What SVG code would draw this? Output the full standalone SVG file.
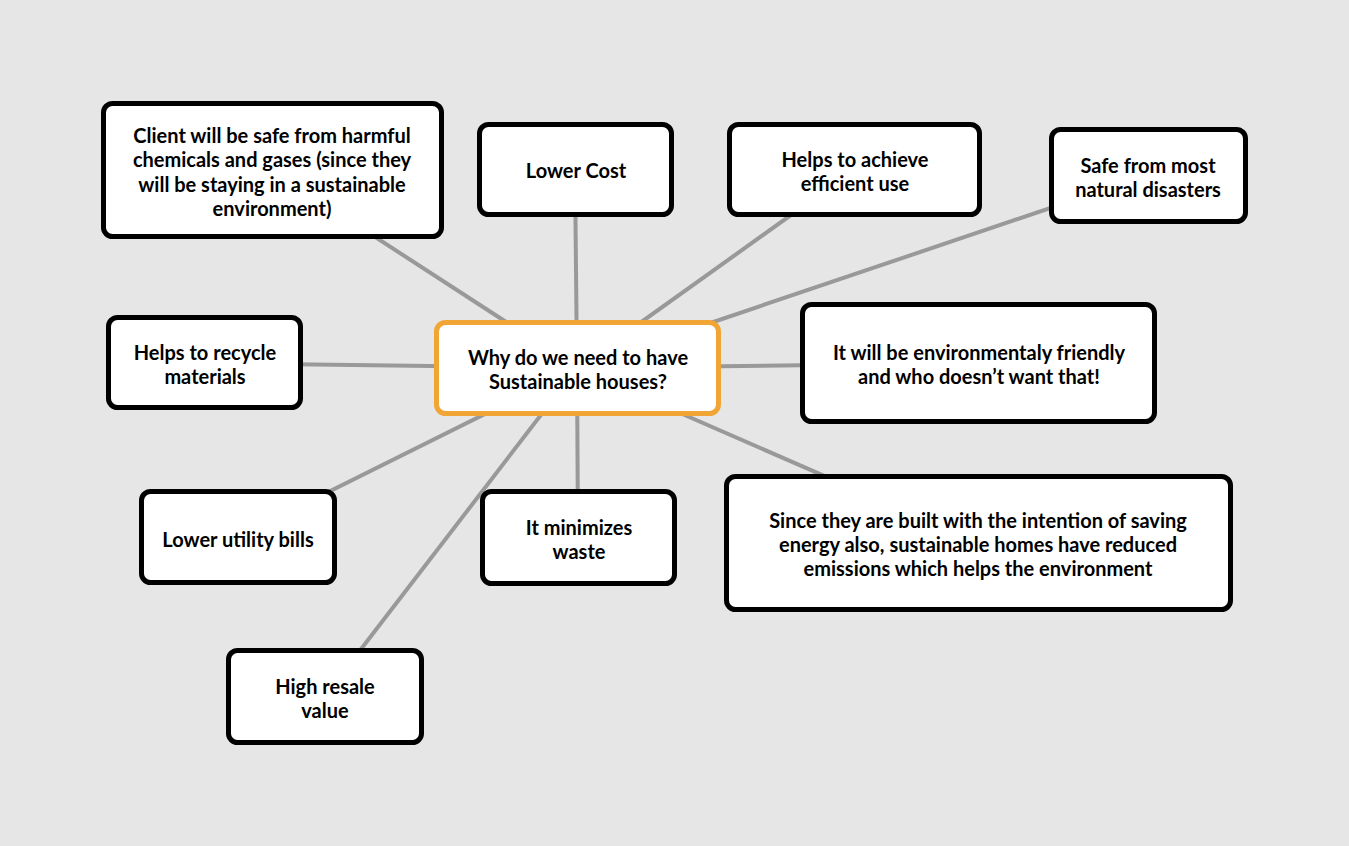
<svg xmlns="http://www.w3.org/2000/svg" width="1349" height="846" viewBox="0 0 1349 846">
  <style>
    .bg { fill: #e6e6e6; }
    .box { fill: #ffffff; stroke: #000000; stroke-width: 5; }
    .hub { fill: #ffffff; stroke: #f0a535; stroke-width: 5; }
    .link { stroke: #999999; stroke-width: 4; fill: none; }
    text { font-family: "Lato", "Liberation Sans", sans-serif; font-weight: bold; font-size: 20px; fill: #000000; text-anchor: middle; }
  </style>
  <rect class="bg" x="0" y="0" width="1349" height="846"/>

  <!-- spokes from the central question to each reason -->
  <g id="connectors">
    <line class="link" x1="577" y1="368" x2="272" y2="170"/>
    <line class="link" x1="577" y1="368" x2="575" y2="170"/>
    <line class="link" x1="577" y1="368" x2="854" y2="170"/>
    <line class="link" x1="577" y1="368" x2="1148" y2="175"/>
    <line class="link" x1="577" y1="368" x2="204" y2="363"/>
    <line class="link" x1="577" y1="368" x2="978" y2="363"/>
    <line class="link" x1="577" y1="368" x2="238" y2="537"/>
    <line class="link" x1="577" y1="368" x2="578" y2="537"/>
    <line class="link" x1="577" y1="368" x2="978" y2="543"/>
    <line class="link" x1="577" y1="368" x2="325" y2="696"/>
  </g>

  <g id="node-client-safe">
    <rect class="box" x="103.5" y="103.5" width="338" height="133" rx="9"/>
    <text x="272" y="143">Client will be safe from harmful</text>
    <text x="272" y="167">chemicals and gases (since they</text>
    <text x="272" y="192">will be staying in a sustainable</text>
    <text x="272" y="216">environment)</text>
  </g>

  <g id="node-lower-cost">
    <rect class="box" x="479.5" y="124.5" width="192" height="90" rx="9"/>
    <text x="576" y="178">Lower Cost</text>
  </g>

  <g id="node-efficient-use">
    <rect class="box" x="729.5" y="124.5" width="250" height="90" rx="9"/>
    <text x="855" y="167">Helps to achieve</text>
    <text x="855" y="191">efficient use</text>
  </g>

  <g id="node-natural-disasters">
    <rect class="box" x="1051.5" y="129.5" width="194" height="92" rx="9"/>
    <text x="1148" y="173">Safe from most</text>
    <text x="1148" y="197">natural disasters</text>
  </g>

  <g id="node-recycle">
    <rect class="box" x="108.5" y="317.5" width="192" height="90" rx="9"/>
    <text x="205" y="360">Helps to recycle</text>
    <text x="205" y="384">materials</text>
  </g>

  <g id="node-center">
    <rect class="hub" x="436.5" y="322.5" width="282" height="91" rx="9"/>
    <text x="578" y="365">Why do we need to have</text>
    <text x="578" y="389">Sustainable houses?</text>
  </g>

  <g id="node-eco-friendly">
    <rect class="box" x="802.5" y="304.5" width="352" height="117" rx="9"/>
    <text x="979" y="360">It will be environmentaly friendly</text>
    <text x="979" y="384">and who doesn’t want that!</text>
  </g>

  <g id="node-utility-bills">
    <rect class="box" x="141.5" y="491.5" width="193" height="91" rx="9"/>
    <text x="238" y="547">Lower utility bills</text>
  </g>

  <g id="node-minimizes-waste">
    <rect class="box" x="482.5" y="491.5" width="192" height="92" rx="9"/>
    <text x="579" y="535">It minimizes</text>
    <text x="579" y="559">waste</text>
  </g>

  <g id="node-reduced-emissions">
    <rect class="box" x="726.5" y="476.5" width="504" height="133" rx="9"/>
    <text x="978" y="528">Since they are built with the intention of saving</text>
    <text x="978" y="552">energy also, sustainable homes have reduced</text>
    <text x="978" y="576">emissions which helps the environment</text>
  </g>

  <g id="node-resale-value">
    <rect class="box" x="228.5" y="650.5" width="193" height="92" rx="9"/>
    <text x="325" y="694">High resale</text>
    <text x="325" y="718">value</text>
  </g>
</svg>
